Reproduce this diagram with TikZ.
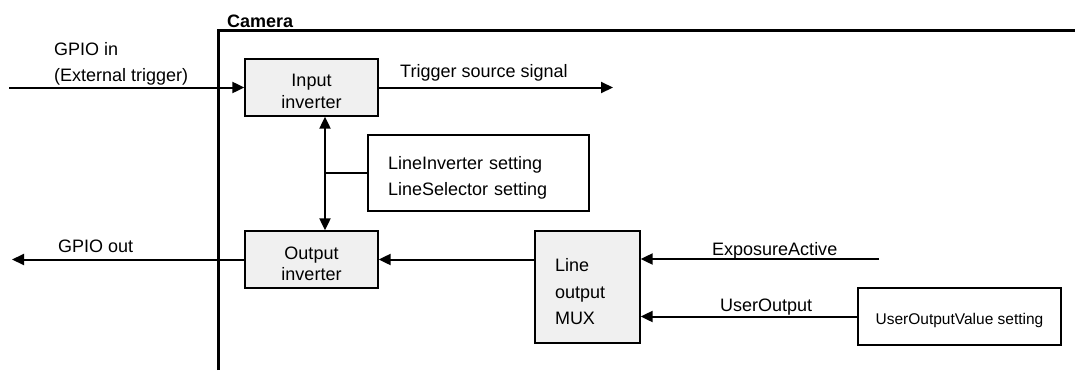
\documentclass[tikz,border=0pt]{standalone}
\usepackage{fontspec}
\setmainfont{Liberation Sans}
\usetikzlibrary{arrows.meta,positioning}

\tikzset{
  sigtip/.tip={Triangle[length=12pt,width=11pt]},
  block/.style={draw, line width=1.3pt, fill=gray!12, inner sep=0pt,
    font=\fontsize{18}{21.5}\selectfont, align=center},
  setbox/.style={draw, line width=1.3pt, fill=white, inner sep=0pt},
  sig/.style={line width=2pt, -sigtip},
  lbl/.style={font=\fontsize{18}{26}\selectfont, inner sep=0pt},
}

\begin{document}
\begin{tikzpicture}[x=1pt,y=-1pt]
\useasboundingbox (0,0) rectangle (1075,370);

% camera frame
\draw[line width=3pt] (218,370) |- (1075,30);
\node[lbl, font=\fontsize{18}{22}\selectfont\bfseries, anchor=base west] (camera) at (227,27) {Camera};

% the blocks
\node[block, minimum width=133pt, minimum height=57pt] (input) at (311.5,87.5) {\rule{0pt}{20pt}Input\\inverter};
\node[block, minimum width=133pt, minimum height=57pt] (output) at (311.5,259.5) {\rule{0pt}{21pt}Output\\inverter};
\node[block, minimum width=105pt, minimum height=112pt, text width=65pt, inner xsep=20pt,
  align=left, font=\fontsize{18}{26.5}\selectfont] (mux) at (587.5,287) {\rule{0pt}{23pt}Line\\output\\MUX};
\node[setbox, minimum width=221pt, minimum height=76pt, text width=181pt, inner xsep=20pt,
  align=left, font=\fontsize{18}{26}\selectfont] (lineset) at (478.5,173) {\rule{0pt}{23pt}LineInverter setting\\LineSelector setting};
\node[setbox, minimum width=203pt, minimum height=57pt, font=\fontsize{15.5}{18}\selectfont] (uov) at (959.5,316.5) {\rule{0pt}{20pt}UserOutputValue setting};

% free ends
\coordinate (gpioin) at (9,87.5);
\coordinate (trig) at (613,87.5);
\coordinate (gpioout) at (12,259.5);
\coordinate (expo) at (879,259);
\coordinate (tap) at (325,173);

% signals
\draw[sig] (gpioin) -- (input.west);
\draw[sig] (input.east) -- (trig);
\draw[sig, sigtip-sigtip] ([xshift=13.5pt]input.south) -- ([xshift=13.5pt]output.north);
\draw[line width=2pt] (tap) -- (lineset.west);
\draw[sig] (mux.west |- output.east) -- (output.east);
\draw[sig] (output.west) -- (gpioout);
\draw[sig] (expo) -- (expo -| mux.east);
\draw[sig] (uov.west) -- (uov.west -| mux.east);

% labels
\node[lbl, anchor=base west, align=left] (gpioinlbl) at (54,81) {GPIO in\\(External trigger)};
\node[lbl, anchor=base west] (triglbl) at (400,77) {Trigger source signal};
\node[lbl, anchor=base west] (gpiooutlbl) at (58,252) {GPIO out};
\node[lbl, anchor=base west] (expolbl) at (712,255) {ExposureActive};
\node[lbl, anchor=base west] (uolbl) at (720,311) {UserOutput};
\end{tikzpicture}
\end{document}
